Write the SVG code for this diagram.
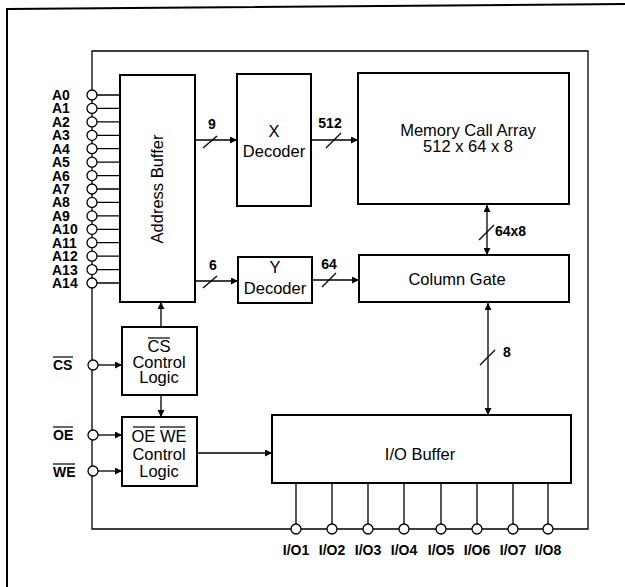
<svg xmlns="http://www.w3.org/2000/svg" width="625" height="587" viewBox="0 0 625 587">
<style>
.box{fill:#fff;stroke:#000;stroke-width:2}
.ln{fill:none;stroke:#000;stroke-width:1.3}
.pin{fill:#fff;stroke:#000;stroke-width:1.3}
.t{font-family:"Liberation Sans",Arial,sans-serif;font-size:16.5px;fill:#000;text-anchor:middle}
.p{font-family:"Liberation Sans",Arial,sans-serif;font-size:14px;font-weight:bold;fill:#000}
.n{font-family:"Liberation Sans",Arial,sans-serif;font-size:14px;font-weight:bold;fill:#000}
.ov{stroke:#000;stroke-width:1.2}
</style>
<defs>
<marker id="ah" viewBox="0 0 10 10" refX="10" refY="5" markerWidth="8" markerHeight="7" markerUnits="userSpaceOnUse" orient="auto-start-reverse">
<path d="M0,0 L10,5 L0,10 z" fill="#000"/>
</marker>
</defs>
<rect width="625" height="587" fill="#fff"/>
<path d="M7,587 V9 L625,4" fill="none" stroke="#000" stroke-width="2"/>

<g id="connectors">
<path class="ln" d="M92,283 V529 H588 V51 H92 Z"/>
<g class="ln">
<path d="M97,95H120M97,108.4H120M97,121.9H120M97,135.3H120M97,148.7H120M97,162.2H120M97,175.6H120M97,189H120M97,202.4H120M97,215.9H120M97,229.3H120M97,242.7H120M97,256.2H120M97,269.6H120M97,283H120"/>
<path d="M296,483V529M332,483V529M368,483V529M404,483V529M441,483V529M477,483V529M513,483V529M548,483V529"/>
</g>
<g class="ln" marker-end="url(#ah)">
<path d="M195,140H237"/>
<path d="M195,281H238"/>
<path d="M311,140H358"/>
<path d="M312,280H359"/>
<path d="M161,327V302"/>
<path d="M161,395V417"/>
<path d="M98,365H122"/>
<path d="M98,435H122"/>
<path d="M98,471H122"/>
<path d="M197,453H272"/>
<path d="M487,205V255" marker-start="url(#ah)"/>
<path d="M488,303V415" marker-start="url(#ah)"/>
</g>
<g class="ln">
<path d="M203,148L217,136"/>
<path d="M203,288L217,276"/>
<path d="M326,148L341,133"/>
<path d="M322,287L336,273"/>
<path d="M479,240L494,225"/>
<path d="M480,365L495,350"/>
</g>
<text class="n" x="212" y="129" text-anchor="middle">9</text>
<text class="n" x="213" y="270" text-anchor="middle">6</text>
<text class="n" x="330" y="128" text-anchor="middle">512</text>
<text class="n" x="329" y="269" text-anchor="middle">64</text>
<text class="n" x="495" y="236">64x8</text>
<text class="n" x="507" y="357" text-anchor="middle">8</text>
</g>

<g id="address-pins">
<g class="pin">
<circle cx="92" cy="95" r="5"/><circle cx="92" cy="108.4" r="5"/><circle cx="92" cy="121.9" r="5"/><circle cx="92" cy="135.3" r="5"/><circle cx="92" cy="148.7" r="5"/><circle cx="92" cy="162.2" r="5"/><circle cx="92" cy="175.6" r="5"/><circle cx="92" cy="189" r="5"/><circle cx="92" cy="202.4" r="5"/><circle cx="92" cy="215.9" r="5"/><circle cx="92" cy="229.3" r="5"/><circle cx="92" cy="242.7" r="5"/><circle cx="92" cy="256.2" r="5"/><circle cx="92" cy="269.6" r="5"/><circle cx="92" cy="283" r="5"/>
</g>
<g class="p">
<text x="52" y="100">A0</text><text x="52" y="113.4">A1</text><text x="52" y="126.9">A2</text><text x="52" y="140.3">A3</text><text x="52" y="153.7">A4</text><text x="52" y="167.2">A5</text><text x="52" y="180.6">A6</text><text x="52" y="194">A7</text><text x="52" y="207.4">A8</text><text x="52" y="220.9">A9</text><text x="52" y="234.3">A10</text><text x="52" y="247.7">A11</text><text x="52" y="261.2">A12</text><text x="52" y="274.6">A13</text><text x="52" y="288">A14</text>
</g>
</g>

<g id="control-pins">
<circle class="pin" cx="93" cy="365" r="5"/>
<circle class="pin" cx="93" cy="435" r="5"/>
<circle class="pin" cx="93" cy="471" r="5"/>
<text class="p" x="53" y="370">CS</text>
<line class="ov" x1="53" y1="357" x2="73" y2="357"/>
<text class="p" x="53" y="440">OE</text>
<line class="ov" x1="53" y1="427" x2="73" y2="427"/>
<text class="p" x="53" y="477">WE</text>
<line class="ov" x1="53" y1="464" x2="75" y2="464"/>
</g>

<g id="io-pins">
<g class="pin">
<circle cx="296" cy="529" r="5"/><circle cx="332" cy="529" r="5"/><circle cx="368" cy="529" r="5"/><circle cx="404" cy="529" r="5"/><circle cx="441" cy="529" r="5"/><circle cx="477" cy="529" r="5"/><circle cx="513" cy="529" r="5"/><circle cx="548" cy="529" r="5"/>
</g>
<g class="p" text-anchor="middle">
<text x="296" y="555">I/O1</text><text x="332" y="555">I/O2</text><text x="368" y="555">I/O3</text><text x="404" y="555">I/O4</text><text x="441" y="555">I/O5</text><text x="477" y="555">I/O6</text><text x="513" y="555">I/O7</text><text x="548" y="555">I/O8</text>
</g>
</g>

<g id="address-buffer">
<rect class="box" x="120" y="75" width="75" height="227"/>
<text class="t" transform="translate(163,189) rotate(-90)">Address Buffer</text>
</g>

<g id="x-decoder">
<rect class="box" x="237" y="74" width="74" height="132"/>
<text class="t" x="274" y="137">X</text>
<text class="t" x="274" y="157">Decoder</text>
</g>

<g id="memory-array">
<rect class="box" x="358" y="73" width="211" height="131"/>
<text class="t" x="468" y="136">Memory Call Array</text>
<text class="t" x="468" y="152">512 x 64 x 8</text>
</g>

<g id="y-decoder">
<rect class="box" x="238" y="257" width="74" height="46"/>
<text class="t" x="275" y="273">Y</text>
<text class="t" x="275" y="294">Decoder</text>
</g>

<g id="column-gate">
<rect class="box" x="359" y="255" width="210" height="47"/>
<text class="t" x="457" y="285">Column Gate</text>
</g>

<g id="cs-control">
<rect class="box" x="122" y="327" width="75" height="68"/>
<text class="t" x="159" y="352">CS</text>
<line class="ov" x1="148" y1="338" x2="170" y2="338"/>
<text class="t" x="159" y="368">Control</text>
<text class="t" x="159" y="383">Logic</text>
</g>

<g id="oe-we-control">
<rect class="box" x="122" y="417" width="75" height="69"/>
<text class="t" x="159" y="442">OE WE</text>
<line class="ov" x1="133" y1="427" x2="155" y2="427"/>
<line class="ov" x1="160" y1="427" x2="185" y2="427"/>
<text class="t" x="159" y="460">Control</text>
<text class="t" x="159" y="477">Logic</text>
</g>

<g id="io-buffer">
<rect class="box" x="272" y="415" width="299" height="68"/>
<text class="t" x="420" y="460">I/O Buffer</text>
</g>
</svg>
